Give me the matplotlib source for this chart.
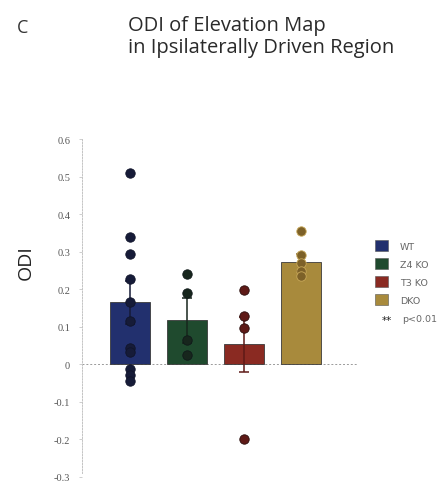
import matplotlib
matplotlib.use("Agg")
import matplotlib.pyplot as plt
from matplotlib.patches import Patch

# group means, standard errors and single-animal values
groups = ["WT", "Z4 KO", "T3 KO", "DKO"]
means = [0.165, 0.117, 0.053, 0.272]
sems = [0.057, 0.061, 0.074, 0.023]
points = [
    [0.511, 0.339, 0.294, 0.228, 0.166, 0.115, 0.043, 0.033, -0.013, -0.027, -0.043],
    [0.240, 0.190, 0.066, 0.026],
    [0.198, 0.130, 0.097, -0.200],
    [0.355, 0.290, 0.270, 0.250, 0.235],
]
yticks = [-0.3, -0.2, -0.1, 0, 0.1, 0.2, 0.3, 0.4, 0.5, 0.6]
yticklabels = ["-0.3", "-0.2", "-0.1", "0", "0.1", "0.2", "0.3", "0.4", "0.5", "0.6"]

bar_colors = ["#22306e", "#1f4a2e", "#8a2a22", "#a88a3c"]
dot_colors = ["#161b38", "#17261d", "#5e1a17", "#7d6128"]
dot_edges = ["#10142a", "#10191a", "#2a0d0c", "#c9a95a"]

fig = plt.figure(figsize=(4.48, 4.89), dpi=100)
ax = fig.add_axes([0.183, 0.0225, 0.614, 0.691])

x = list(range(len(groups)))
ax.bar(x, means, width=0.7, color=bar_colors, edgecolor="#3a3a3a", linewidth=0.6, zorder=2)
for i in x:
    ax.errorbar(i, means[i], yerr=sems[i], fmt="none", ecolor=dot_colors[i],
                elinewidth=1.1, capsize=3.5, capthick=1.1, zorder=3)
    ax.scatter([i] * len(points[i]), points[i], s=46, color=dot_colors[i],
               edgecolor=dot_edges[i], linewidth=0.6, zorder=4)

ax.axhline(0, color="#9a9a9a", lw=0.7, ls=(0, (2, 2)), zorder=1)

ax.set_xlim(-0.84, 3.98)
ax.set_ylim(-0.3, 0.6)
ax.set_xticks([])
ax.set_yticks(yticks)
ax.set_yticklabels(yticklabels, fontsize=7.5, family="Liberation Serif", color="#555555")
ax.tick_params(axis="y", length=2.5, width=0.5, color="#bbbbbb", pad=6)
for side in ["top", "right", "bottom"]:
    ax.spines[side].set_visible(False)
ax.spines["left"].set_color("#c4c4c4")
ax.spines["left"].set_linewidth(0.7)
ax.spines["left"].set_linestyle((0, (1.5, 1.5)))
ax.spines["left"].set_bounds(-0.29, 0.6)

fig.text(0.058, 0.464, "ODI", rotation=90, ha="center", va="center",
         fontsize=14, family="Open Sans", color="#222222")

fig.text(0.038, 0.942, "C", ha="left", va="center", fontsize=13,
         family="Open Sans", color="#333333")
fig.text(0.286, 0.924, "ODI of Elevation Map\nin Ipsilaterally Driven Region",
         ha="left", va="center", fontsize=14.5, family="Open Sans",
         color="#2a2a2a", linespacing=1.1)

handles = [Patch(facecolor=c, edgecolor="#555555", linewidth=0.4) for c in bar_colors]
leg = fig.legend(handles, groups, loc="upper left", bbox_to_anchor=(0.828, 0.515),
                 frameon=False, fontsize=6.8, handlelength=1.45, handleheight=1.45,
                 handletextpad=1.2, labelspacing=0.72, borderaxespad=0)
for t in leg.get_texts():
    t.set_color("#666666")
fig.text(0.852, 0.344, "**", ha="left", va="center", fontsize=7.5, color="#222222")
fig.text(0.898, 0.347, "p<0.01", ha="left", va="center", fontsize=6.8, color="#666666")

fig.savefig("out.png", dpi=100)
